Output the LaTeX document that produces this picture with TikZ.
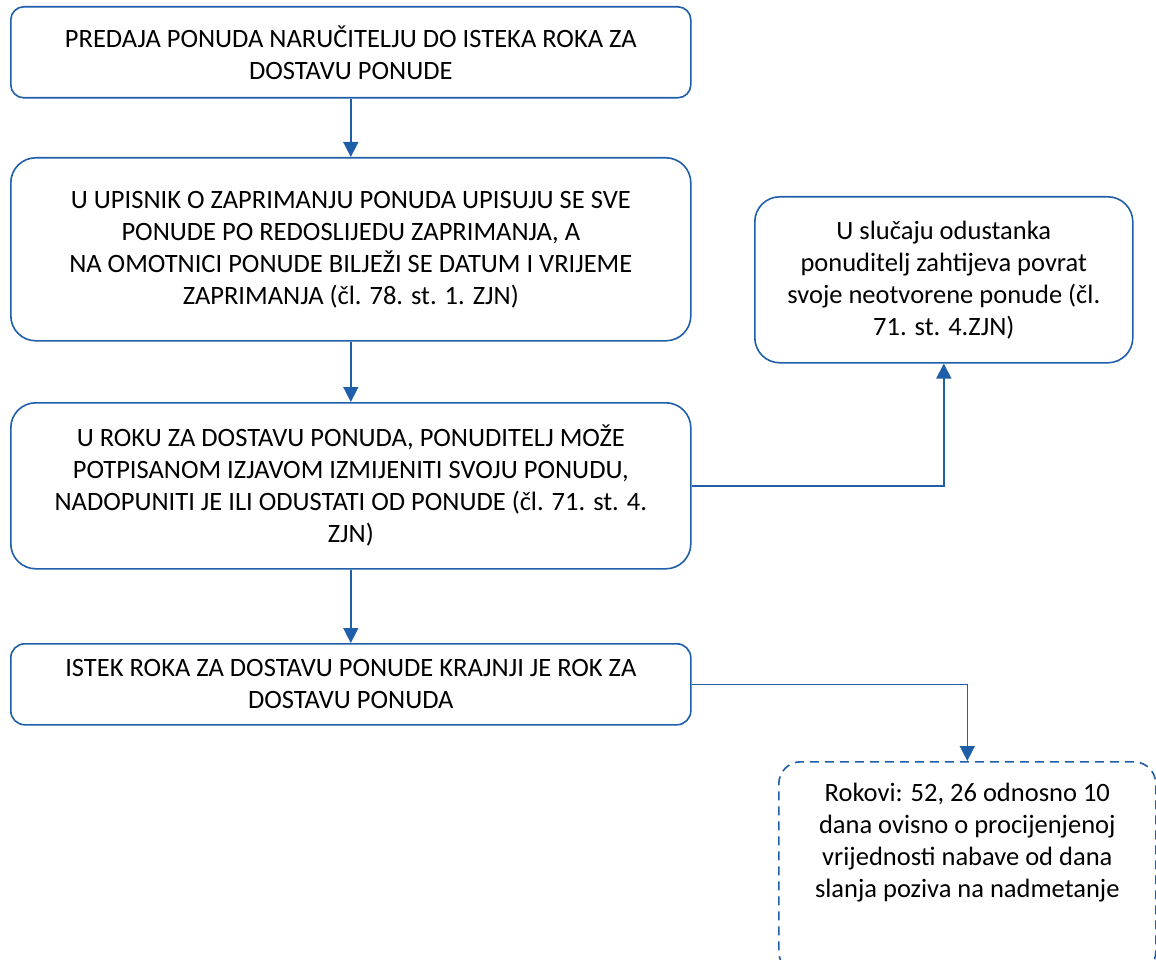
\documentclass[tikz,border=0pt]{standalone}
\usepackage{fontspec}
\setmainfont{Carlito}
\usetikzlibrary{arrows.meta}
\definecolor{flowblue}{RGB}{31,94,169}
\begin{document}
\begin{tikzpicture}[x=1pt,y=-1pt,
  box/.style={draw=flowblue, line width=1.6pt, align=center,
    font=\fontsize{26.5}{32}\selectfont, inner sep=0pt, anchor=north west},
  link/.style={draw=flowblue, line width=1.6pt,
    -{Triangle[width=15pt,length=15pt]}}]
\useasboundingbox (0,0) rectangle (1156,960);

% main column of steps
\node[box, rounded corners=13pt, minimum width=680pt, minimum height=91pt] (b1) at (10,6)
  {PREDAJA PONUDA NARUČITELJU DO ISTEKA ROKA ZA\\DOSTAVU PONUDE};
\node[box, rounded corners=25pt, minimum width=680pt, minimum height=183pt] (b2) at (10,157)
  {U UPISNIK O ZAPRIMANJU PONUDA UPISUJU SE SVE\\PONUDE PO REDOSLIJEDU ZAPRIMANJA, A\\NA OMOTNICI PONUDE BILJEŽI SE DATUM I VRIJEME\\ZAPRIMANJA (čl. 78. st. 1. ZJN)};
\node[box, rounded corners=25pt, minimum width=680pt, minimum height=166pt] (b3) at (10,402)
  {U ROKU ZA DOSTAVU PONUDA, PONUDITELJ MOŽE\\POTPISANOM IZJAVOM IZMIJENITI SVOJU PONUDU,\\NADOPUNITI JE ILI ODUSTATI OD PONUDE (čl. 71. st. 4.\\ZJN)};
\node[box, rounded corners=14pt, minimum width=680pt, minimum height=81pt] (b4) at (10,643)
  {ISTEK ROKA ZA DOSTAVU PONUDE KRAJNJI JE ROK ZA\\DOSTAVU PONUDA};

% side notes
\node[box, rounded corners=25pt, minimum width=378pt, minimum height=166pt] (side) at (754,196)
  {U slučaju odustanka\\ponuditelj zahtijeva povrat\\svoje neotvorene ponude (čl.\\71. st. 4.ZJN)};
\node[box, rounded corners=22pt, dash pattern=on 9pt off 6pt, minimum width=377pt,
  minimum height=212pt, text depth=56pt] (note) at (778,761)
  {Rokovi: 52, 26 odnosno 10\\dana ovisno o procijenjenoj\\vrijednosti nabave od dana\\slanja poziva na nadmetanje};

% connectors
\draw[link] (b1) -- (b2);
\draw[link] (b2) -- (b3);
\draw[link] (b3) -- (b4);
\draw[link] (b3.east) -| (side.south);
\draw[link] (b4.east) -| (note.north);
\end{tikzpicture}
\end{document}
